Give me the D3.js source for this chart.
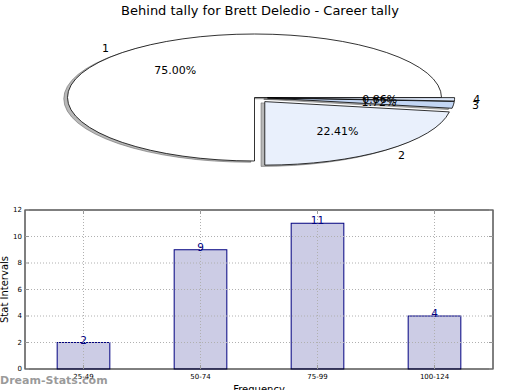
<!DOCTYPE html>
<html>
<head>
<meta charset="utf-8">
<script src="https://cdn.jsdelivr.net/npm/d3@7"></script>
<style>
  body { margin: 0; background: #fff; }
  text { font-family: "DejaVu Sans", sans-serif; }
</style>
</head>
<body>
<script>
// pie data (tally shares)
var pieLabels = ["1", "2", "3", "4"];
var pieValues = [87, 26, 2, 1];
var pieColors = ["#ffffff", "#e9f0fc", "#c3d6f4", "#dde8fa"];
var pieExplode = [0, 0.085, 0.07, 0.07];

// bar data
var barCats = ["25-49", "50-74", "75-99", "100-124"];
var barValues = [2, 9, 11, 4];
var yTicks = [0, 2, 4, 6, 8, 10, 12];

var W = 520, H = 390;
var svg = d3.select("body").append("svg")
    .attr("width", W)
    .attr("height", H);

// title
svg.append("text")
  .attr("x", 260).attr("y", 15)
  .attr("text-anchor", "middle")
  .style("font-size", "13px")
  .text("Behind tally for Brett Deledio - Career tally");

// ---- pie (elliptical, exploded, with shadow)
var cx = 254.5, cy = 97.5, rx = 187, ry = 63.5;

var pie = d3.pie().sort(null)
    .startAngle(Math.PI / 2)
    .endAngle(Math.PI / 2 - 2 * Math.PI);
var arcs = pie(pieValues);
var arcGen = d3.arc().innerRadius(0).outerRadius(1);
var total = d3.sum(pieValues);

var pieG = svg.append("g");

// shadows first
arcs.forEach(function(a, i) {
  var m = (a.startAngle + a.endAngle) / 2;
  var ox = pieExplode[i] * rx * Math.sin(m),
      oy = -pieExplode[i] * ry * Math.cos(m);
  pieG.append("path")
    .attr("d", arcGen(a))
    .attr("transform", "translate(" + (cx + ox - 0.02 * rx) + "," + (cy + oy + 0.02 * ry) + ") scale(" + rx + "," + ry + ")")
    .attr("fill", "#000")
    .attr("fill-opacity", 0.28)
    .attr("stroke", "#555")
    .attr("stroke-opacity", 0.5)
    .attr("stroke-width", 1)
    .attr("vector-effect", "non-scaling-stroke");
});

arcs.forEach(function(a, i) {
  var m = (a.startAngle + a.endAngle) / 2;
  var ox = pieExplode[i] * rx * Math.sin(m),
      oy = -pieExplode[i] * ry * Math.cos(m);
  pieG.append("path")
    .attr("d", arcGen(a))
    .attr("transform", "translate(" + (cx + ox) + "," + (cy + oy) + ") scale(" + rx + "," + ry + ")")
    .attr("fill", pieColors[i])
    .attr("stroke", "#000")
    .attr("stroke-width", 0.8)
    .attr("vector-effect", "non-scaling-stroke");
});

// labels: names at 1.1 r, percentages at 0.6 r
arcs.forEach(function(a, i) {
  var m = (a.startAngle + a.endAngle) / 2;
  var px = cx + pieExplode[i] * rx * Math.sin(m),
      py = cy - pieExplode[i] * ry * Math.cos(m);
  var lx = px + 1.1 * rx * Math.sin(m),
      ly = py - 1.1 * ry * Math.cos(m);
  pieG.append("text")
    .attr("x", lx).attr("y", ly)
    .attr("dy", "0.35em")
    .attr("text-anchor", Math.sin(m) < 0 ? "end" : "start")
    .style("font-size", "11px")
    .text(pieLabels[i]);
  pieG.append("text")
    .attr("x", px + 0.6 * rx * Math.sin(m))
    .attr("y", py - 0.6 * ry * Math.cos(m))
    .attr("dy", "0.35em")
    .attr("text-anchor", "middle")
    .style("font-size", "11px")
    .text(d3.format(".2f")(pieValues[i] / total * 100) + "%");
});

// ---- bar chart
var pLeft = 25, pRight = 493, pTop = 210, pBottom = 369;

var x = d3.scaleBand().domain(barCats)
    .range([pLeft, pRight])
    .paddingInner(0.55)
    .paddingOuter(0.275);
var y = d3.scaleLinear().domain([0, 12]).range([pBottom, pTop]);

var g = svg.append("g");

// bars
g.selectAll(".bar").data(barValues).enter().append("rect")
  .attr("x", function(d, i) { return x(barCats[i]); })
  .attr("y", function(d) { return y(d); })
  .attr("width", x.bandwidth())
  .attr("height", function(d) { return pBottom - y(d); })
  .attr("fill", "#ccccE5")
  .attr("stroke", "#000080")
  .attr("stroke-width", 1);

// dotted grid on top of bars
g.selectAll(".vgrid").data(barCats).enter().append("line")
  .attr("x1", function(d) { return x(d) + x.bandwidth() / 2; })
  .attr("x2", function(d) { return x(d) + x.bandwidth() / 2; })
  .attr("y1", pTop).attr("y2", pBottom)
  .attr("stroke", "#b0b0b0")
  .attr("stroke-dasharray", "1,2");
g.selectAll(".hgrid").data(yTicks.slice(1, -1)).enter().append("line")
  .attr("x1", pLeft).attr("x2", pRight)
  .attr("y1", function(d) { return y(d); })
  .attr("y2", function(d) { return y(d); })
  .attr("stroke", "#b0b0b0")
  .attr("stroke-dasharray", "1,2");

// value labels
g.selectAll(".val").data(barValues).enter().append("text")
  .attr("x", function(d, i) { return x(barCats[i]) + x.bandwidth() / 2; })
  .attr("y", function(d) { return y(d) + 1; })
  .attr("text-anchor", "middle")
  .attr("fill", "#000080")
  .style("font-size", "10.5px")
  .text(function(d) { return d; });

// frame
g.append("rect")
  .attr("x", pLeft).attr("y", pTop)
  .attr("width", pRight - pLeft).attr("height", pBottom - pTop)
  .attr("fill", "none")
  .attr("stroke", "#000")
  .attr("stroke-width", 1);

// ticks (inward, both sides)
yTicks.forEach(function(t) {
  g.append("line").attr("x1", pLeft).attr("x2", pLeft + 4)
    .attr("y1", y(t)).attr("y2", y(t)).attr("stroke", "#999");
  g.append("line").attr("x1", pRight - 4).attr("x2", pRight)
    .attr("y1", y(t)).attr("y2", y(t)).attr("stroke", "#999");
  g.append("text")
    .attr("x", pLeft - 3).attr("y", y(t))
    .attr("dy", "0.35em")
    .attr("text-anchor", "end")
    .style("font-size", "7px")
    .text(t);
});
barCats.forEach(function(c) {
  var xc = x(c) + x.bandwidth() / 2;
  g.append("line").attr("x1", xc).attr("x2", xc)
    .attr("y1", pBottom).attr("y2", pBottom - 4).attr("stroke", "#999");
  g.append("line").attr("x1", xc).attr("x2", xc)
    .attr("y1", pTop).attr("y2", pTop + 4).attr("stroke", "#999");
  g.append("text")
    .attr("x", xc).attr("y", pBottom + 10)
    .attr("text-anchor", "middle")
    .style("font-size", "7px")
    .text(c);
});

// axis labels
svg.append("text")
  .attr("transform", "translate(8," + ((pTop + pBottom) / 2) + ") rotate(-90)")
  .attr("text-anchor", "middle")
  .style("font-size", "10px")
  .text("Stat Intervals");
svg.append("text")
  .attr("x", (pLeft + pRight) / 2).attr("y", 393)
  .attr("text-anchor", "middle")
  .style("font-size", "10px")
  .text("Frequency");

// watermark
svg.append("text")
  .attr("x", 0).attr("y", 384)
  .attr("fill", "#888")
  .attr("fill-opacity", 0.85)
  .style("font-size", "11px")
  .style("font-weight", "bold")
  .text("Dream-Stats.com");
</script>
</body>
</html>
